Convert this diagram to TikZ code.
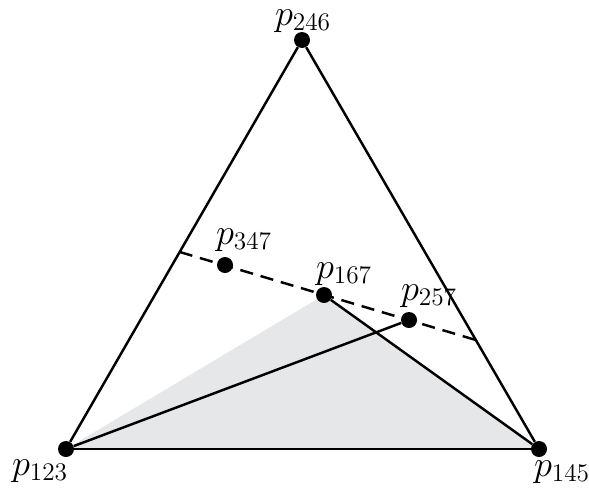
\documentclass[tikz,border=0pt]{standalone}
\usepackage{amsmath}
\usepackage{xcolor}
\usepackage{tikz}
\usetikzlibrary{calc, backgrounds}

\definecolor{regiongray}{RGB}{230,231,233}

\begin{document}
\begin{tikzpicture}[
    dot/.style={circle, fill=black, inner sep=0pt, minimum size=0.32cm},
    lbl/.style={font=\huge, inner sep=0pt},
    edge/.style={line width=1.4pt},
    dashline/.style={line width=1.4pt, dash pattern=on 7.5pt off 4.5pt},
]
\useasboundingbox (0, 0) rectangle (11.78, 9.86);

% --- Points ---
\node[dot, label={[lbl, xshift=0.02cm, yshift=0.38cm]center:$p_{246}$}] (p246) at (6.04, 9.06) {};
\node[dot, label={[lbl, xshift=-0.52cm, yshift=-0.44cm]center:$p_{123}$}] (p123) at (1.32, 0.88) {};
\node[dot, label={[lbl, xshift=0.46cm, yshift=-0.46cm]center:$p_{145}$}] (p145) at (10.78, 0.88) {};
\node[dot, label={[lbl, xshift=0.38cm, yshift=0.50cm]center:$p_{347}$}] (p347) at (4.50, 4.56) {};
\node[dot, label={[lbl, xshift=0.40cm, yshift=0.42cm]center:$p_{167}$}] (p167) at (6.48, 3.96) {};
\node[dot, label={[lbl, xshift=0.40cm, yshift=0.48cm]center:$p_{257}$}] (p257) at (8.18, 3.46) {};

% dashed line ends on the two sides
\coordinate (dl) at ($(p123)!0.4817!(p246)$);
\coordinate (dr) at ($(p145)!0.2665!(p246)$);

% --- Shaded region ---
\begin{scope}[on background layer]
\fill[regiongray] (p123.center) -- (p167.center) -- (p145.center) -- cycle;
\end{scope}

% --- Triangle ---
\draw[edge] (p123) -- (p246);
\draw[edge] (p246) -- (p145);
\draw[edge] (p123) -- (p145);

% --- Inner lines ---
\draw[edge] (p167) -- (p145);
\draw[edge] (p123) -- (p257);
\draw[dashline] (dl) -- (dr);
\end{tikzpicture}
\end{document}
